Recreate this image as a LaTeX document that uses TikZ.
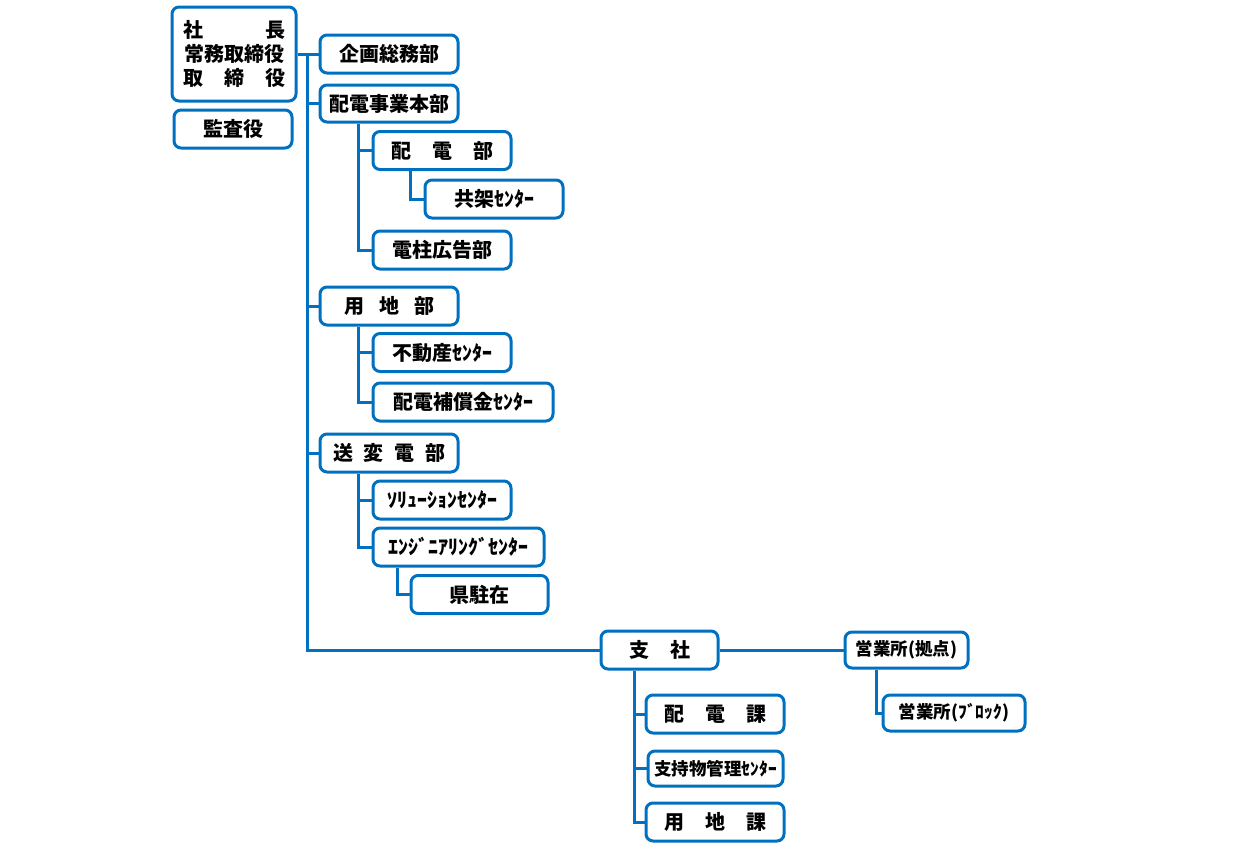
\documentclass[tikz,border=0pt]{standalone}
\usepackage{fontspec}
\setmainfont{Noto Sans CJK JP}
\usepackage{xcolor}
\definecolor{orgblue}{HTML}{0070C0}

\newcommand{\spreadtxt}[2]{\hbox to #1{#2}}

\tikzset{
  orgbox/.style={draw=orgblue, line width=3pt, rounded corners=7pt, fill=white,
    minimum width=138pt, minimum height=38pt, inner sep=0pt, font=\fontsize{20}{24}\selectfont\bfseries},
  smallbox/.style={orgbox, font=\fontsize{17.5}{20}\selectfont\bfseries},
  conn/.style={draw=orgblue, line width=3pt}
}

\begin{document}
\begin{tikzpicture}[x=1pt, y={(0pt,-1pt)}]
      \useasboundingbox (0,0) rectangle (1256,854);

      % top management
      \node[orgbox, name=shacho, minimum width=124pt, minimum height=94pt, align=center] at (234,54)
         {\spreadtxt{102pt}{社\hfill 長}\\常務取締役\\\spreadtxt{102pt}{取\hfill 締\hfill 役}};
      \node[orgbox, name=kansa, minimum width=118pt] at (233,129) {監査役};

      % head office
      \node[orgbox, name=kikaku] at (389,54) {企画総務部};
      \node[orgbox, name=jigyo, minimum height=37pt] at (389,103.5) {配電事業本部};
      \node[orgbox, name=haidenbu] at (442,150.5) {\spreadtxt{102pt}{配\hfill 電\hfill 部}};
      \node[orgbox, name=kyoka] at (494,199) {共架ｾﾝﾀｰ};
      \node[orgbox, name=denchu] at (442,250) {電柱広告部};
      \node[orgbox, name=yochi] at (389,306) {\spreadtxt{90pt}{用\hfill 地\hfill 部}};
      \node[orgbox, name=fudosan] at (442,352.5) {不動産ｾﾝﾀｰ};
      \node[orgbox, name=hosho, minimum width=180pt] at (463,402) {配電補償金ｾﾝﾀｰ};
      \node[orgbox, name=sohen] at (389,453) {\spreadtxt{112pt}{送\hfill 変\hfill 電\hfill 部}};
      \node[orgbox, name=solution] at (442,500) {ｿﾘｭｰｼｮﾝｾﾝﾀｰ};
      \node[orgbox, name=engineer, minimum width=171pt] at (458.5,547) {ｴﾝｼﾞﾆｱﾘﾝｸﾞｾﾝﾀｰ};
      \node[orgbox, name=kenchu, minimum width=137pt] at (479.5,594.5) {県駐在};

      % branch offices
      \node[orgbox, name=shisha, minimum width=117pt] at (659.5,650) {\spreadtxt{61pt}{支\hfill 社}};
      \node[smallbox, name=eigyo, minimum width=123pt, minimum height=36pt] at (906.5,650) {営業所(拠点)};
      \node[smallbox, name=block, minimum width=142pt, minimum height=36pt] at (954,713) {営業所(ﾌﾞﾛｯｸ)};
      \node[orgbox, name=haidenka] at (715,714) {\spreadtxt{102pt}{配\hfill 電\hfill 課}};
      \node[smallbox, name=shiji, minimum width=135pt, minimum height=35pt] at (715.5,768.5) {支持物管理ｾﾝﾀｰ};
      \node[orgbox, name=yochika] at (715,822) {\spreadtxt{102pt}{用\hfill 地\hfill 課}};

      % spines
      \coordinate (spine) at (307,0);
      \coordinate (sub) at (358,0);
      \coordinate (subb) at (410,0);
      \coordinate (subc) at (397,0);
      \coordinate (subd) at (634,0);
      \coordinate (sube) at (876,0);

      \draw[conn] (shacho.east) -- (kikaku.west);
      \draw[conn] (spine |- kikaku) |- (shisha.west);
      \foreach \n in {jigyo,yochi,sohen}
         \draw[conn] (spine |- \n) -- (\n.west);

      \draw[conn] (sub |- jigyo.south) |- (denchu.west);
      \draw[conn] (sub |- haidenbu) -- (haidenbu.west);
      \draw[conn] (subb |- haidenbu.south) |- (kyoka.west);

      \draw[conn] (sub |- yochi.south) |- (hosho.west);
      \draw[conn] (sub |- fudosan) -- (fudosan.west);

      \draw[conn] (sub |- sohen.south) |- (engineer.west);
      \draw[conn] (sub |- solution) -- (solution.west);
      \draw[conn] (subc |- engineer.south) |- (kenchu.west);

      \draw[conn] (shisha.east) -- (eigyo.west);
      \draw[conn] (sube |- eigyo.south) |- (block.west);
      \draw[conn] (subd |- shisha.south) |- (yochika.west);
      \foreach \n in {haidenka,shiji}
         \draw[conn] (subd |- \n) -- (\n.west);
   \end{tikzpicture}
\end{document}
